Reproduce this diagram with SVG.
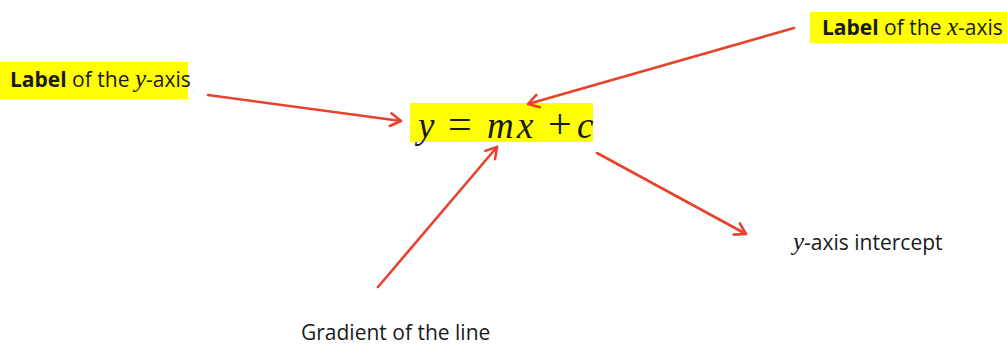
<svg xmlns="http://www.w3.org/2000/svg" width="1007" height="349" viewBox="0 0 1007 349">
<defs>
<style>
.hl{fill:#ffff00}
.t{font-family:"Open Sans","Liberation Sans",sans-serif;font-size:21px;fill:#1a1a1a}
.b{font-weight:bold}
.m{font-family:"Liberation Serif","DejaVu Serif",serif;font-style:italic}
.eq{font-family:"Liberation Serif","DejaVu Serif",serif;font-style:italic;font-size:37px;fill:#1a1a1a}
.up{font-style:normal;font-size:42px}
.c{stroke:#e8412c;stroke-width:2.6;fill:none;stroke-linecap:round;marker-end:url(#ah)}
</style>
<marker id="ah" viewBox="0 0 12 12" refX="10" refY="6" markerWidth="7" markerHeight="7" markerUnits="userSpaceOnUse" orient="auto" overflow="visible">
<path d="M1,0.5 L10,6 L1,11.5" fill="none" stroke="#e8412c" stroke-width="2.2" stroke-linecap="round" stroke-linejoin="round" transform="scale(2) translate(-5,-3)"/>
</marker>
</defs>
<rect width="1007" height="349" fill="#ffffff"/>
<g id="label-y">
<rect class="hl" x="0" y="62" width="188" height="37"/>
<text class="t" x="10" y="87"><tspan class="b">Label</tspan> of the <tspan class="m" font-size="25">y</tspan>-axis</text>
</g>
<g id="label-x">
<rect class="hl" x="810" y="12" width="197" height="31"/>
<text class="t" x="822" y="35"><tspan class="b">Label</tspan> of the <tspan class="m" font-size="25">x</tspan>-axis</text>
</g>
<g id="equation">
<rect class="hl" x="410" y="103" width="183" height="39"/>
<text class="eq" y="138"><tspan x="418">y</tspan><tspan class="up" x="448">=</tspan><tspan x="487">m</tspan><tspan x="517">x</tspan><tspan class="up" x="548">+</tspan><tspan x="577">c</tspan></text>
</g>
<g id="intercept">
<text class="t" x="793" y="250"><tspan class="m" font-size="25">y</tspan>-axis intercept</text>
</g>
<g id="gradient">
<text class="t" x="301" y="340">Gradient of the line</text>
</g>
<g id="connectors">
<line class="c" x1="208" y1="95" x2="401" y2="121"/>
<line class="c" x1="794" y1="28" x2="528" y2="104"/>
<line class="c" x1="378" y1="287" x2="497" y2="147"/>
<line class="c" x1="597" y1="153" x2="746" y2="234"/>
</g>
</svg>
